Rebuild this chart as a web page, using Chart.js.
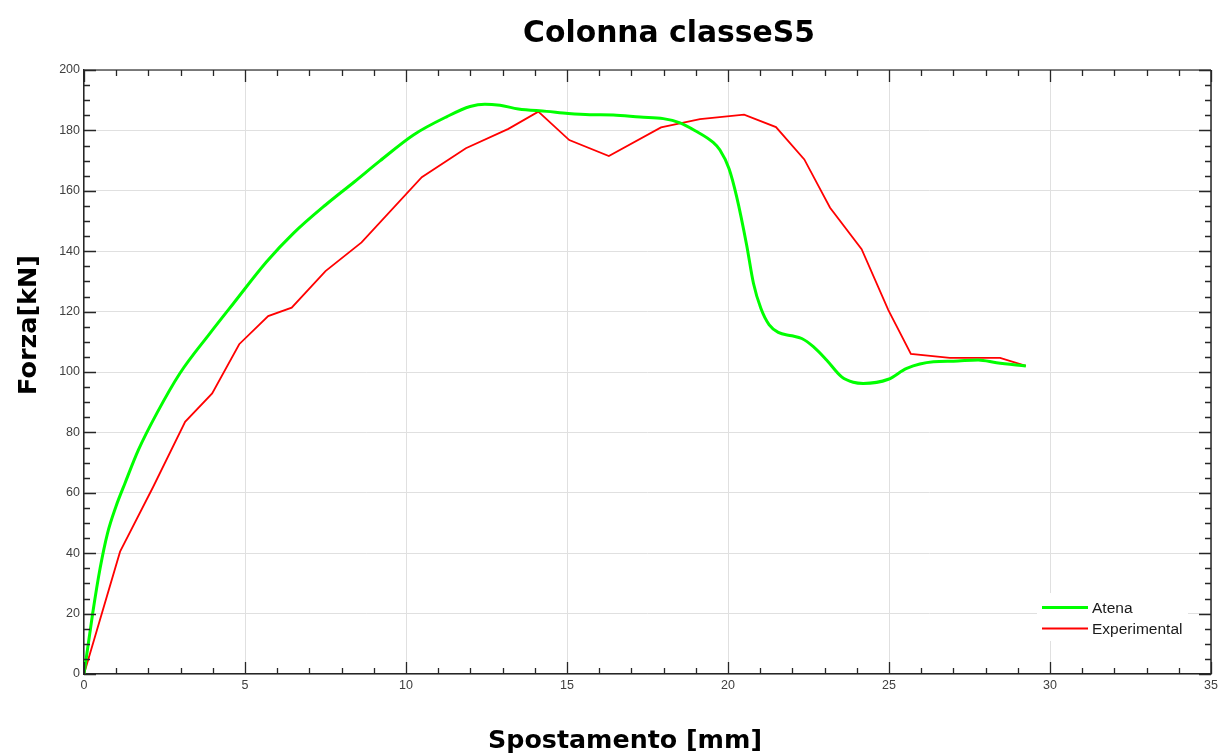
<!DOCTYPE html>
<html>
<head>
<meta charset="utf-8">
<script src="https://cdn.jsdelivr.net/npm/chart.js@4.4.1/dist/chart.umd.min.js"></script>
<style>
html,body{margin:0;padding:0;background:#fff;}
#wrap{position:relative;width:1220px;height:753px;}
</style>
</head>
<body>
<div id="wrap"><canvas id="c" width="1220" height="753"></canvas></div>
<script>
// ---- data ----
const atenaX = [0, 0.27, 0.5, 0.73, 0.99, 1.27, 1.69, 2.26, 2.98, 3.91, 4.64, 5.67, 6.5, 7.5, 8.4, 9.19, 10.23, 11.26, 11.99, 12.45, 12.92, 13.49, 14.37, 15.04, 15.71, 16.44, 17.27, 17.99, 18.51, 18.98, 19.54, 19.75, 20.03, 20.27, 20.58, 20.79, 21.02, 21.28, 21.56, 21.98, 22.29, 22.65, 23.06, 23.53, 23.89, 24.2, 24.98, 25.55, 26.38, 27.0, 27.77, 28.34, 29.25];
const atenaY = [0, 20.1, 35, 46.6, 55.4, 63.1, 74.2, 86.3, 99.6, 112.8, 122.7, 136.5, 145.9, 155.3, 163, 169.9, 178.5, 184.5, 187.9, 188.7, 188.3, 187.1, 186.3, 185.6, 185.2, 185.1, 184.4, 183.9, 182.5, 179.9, 176, 173.5, 167.4, 158, 142, 129.4, 121.1, 115.6, 113.1, 112, 111.1, 108.4, 104, 98.4, 96.6, 96.2, 97.6, 101.2, 103.4, 103.6, 104, 103.1, 102];
const expX = [0, 1.12, 2.15, 3.14, 3.98, 4.82, 5.72, 6.45, 7.5, 8.62, 10.49, 11.86, 13.18, 14.11, 15.07, 16.30, 17.92, 19.13, 20.50, 21.49, 22.37, 23.17, 24.15, 24.98, 25.68, 26.89, 28.45, 29.25];
const expY = [0, 40.5, 62, 83.5, 92.9, 109.2, 118.5, 121.3, 133.4, 142.9, 164.5, 174.1, 180.5, 186.2, 176.8, 171.5, 181, 183.7, 185.2, 181.1, 170.4, 154.4, 140.7, 120.5, 106, 104.7, 104.7, 102];
const seriesNames = ["Atena", "Experimental"];
const titleText = "Colonna classeS5";
const xTitle = "Spostamento [mm]";
const yTitle = "Forza[kN]";
const xMin = 0, xMax = 35, xStep = 5, xMinor = 1;
const yMin = 0, yMax = 200, yStep = 20, yMinor = 5;

const toPts = (xs, ys) => xs.map((x, i) => ({x: x, y: ys[i]}));

function fitFont(ctx, text, weight, family, targetW) {
  ctx.font = weight + " 100px " + family;
  const w = ctx.measureText(text).width;
  return 100 * targetW / w;
}

const decor = {
  id: 'decor',
  afterDatasetsDraw(chart) {
    const ctx = chart.ctx;
    const a = chart.chartArea;
    const xs = chart.scales.x, ys = chart.scales.y;
    ctx.save();
    ctx.lineWidth = 1.5;
    ctx.strokeStyle = '#555';
    ctx.beginPath(); ctx.moveTo(a.left, a.top); ctx.lineTo(a.right, a.top); ctx.stroke();
    ctx.strokeStyle = '#262626';
    ctx.beginPath(); ctx.moveTo(a.right, a.top); ctx.lineTo(a.right, a.bottom); ctx.stroke();
    ctx.strokeStyle = '#262626';
    ctx.lineWidth = 1.3;
    ctx.beginPath();
    for (let v = xMin; v <= xMax + 1e-9; v += xMinor) {
      const px = Math.round(xs.getPixelForValue(v)) + 0.5;
      const len = (Math.abs(v / xStep - Math.round(v / xStep)) < 1e-9) ? 12 : 6;
      ctx.moveTo(px, a.bottom); ctx.lineTo(px, a.bottom - len);
      ctx.moveTo(px, a.top); ctx.lineTo(px, a.top + len);
    }
    for (let v = yMin; v <= yMax + 1e-9; v += yMinor) {
      const py = Math.round(ys.getPixelForValue(v)) + 0.5;
      const len = (Math.abs(v / yStep - Math.round(v / yStep)) < 1e-9) ? 12 : 6;
      ctx.moveTo(a.left, py); ctx.lineTo(a.left + len, py);
      ctx.moveTo(a.right, py); ctx.lineTo(a.right - len, py);
    }
    ctx.stroke();
    ctx.restore();
  },
  afterDraw(chart) {
    const ctx = chart.ctx;
    ctx.save();
    const lx = 1037, ly = 593;
    ctx.fillStyle = '#fff';
    ctx.fillRect(lx, ly, 151, 48);
    const ds = chart.data.datasets;
    const rows = [607.5, 628.5];
    ctx.font = '15.5px "Liberation Sans", Arial, sans-serif';
    ctx.textBaseline = 'middle';
    ctx.textAlign = 'left';
    rows.forEach((ry, i) => {
      ctx.strokeStyle = ds[i].borderColor;
      ctx.lineWidth = ds[i].borderWidth;
      ctx.beginPath(); ctx.moveTo(1042, ry); ctx.lineTo(1088, ry); ctx.stroke();
      ctx.fillStyle = '#1a1a1a';
      ctx.fillText(ds[i].label, 1092, ry + 1);
    });
    const fam = '"DejaVu Sans", sans-serif';
    ctx.fillStyle = '#000';
    ctx.textAlign = 'center';
    ctx.textBaseline = 'alphabetic';
    let fs = fitFont(ctx, titleText, 'bold', fam, 292);
    ctx.font = 'bold ' + fs + 'px ' + fam;
    ctx.fillText(titleText, 669, 42);
    fs = fitFont(ctx, xTitle, 'bold', fam, 274);
    ctx.font = 'bold ' + fs + 'px ' + fam;
    ctx.fillText(xTitle, 625, 748);
    fs = fitFont(ctx, yTitle, 'bold', fam, 140);
    ctx.font = 'bold ' + fs + 'px ' + fam;
    ctx.translate(36, 325);
    ctx.rotate(-Math.PI / 2);
    ctx.fillText(yTitle, 0, 0);
    ctx.restore();
  }
};

new Chart(document.getElementById('c'), {
  type: 'line',
  data: {
    datasets: [
      {
        label: seriesNames[0],
        data: toPts(atenaX, atenaY),
        borderColor: '#00ff00',
        backgroundColor: '#00ff00',
        borderWidth: 3,
        pointRadius: 0,
        cubicInterpolationMode: 'monotone',
        fill: false
      },
      {
        label: seriesNames[1],
        data: toPts(expX, expY),
        borderColor: '#ff0000',
        backgroundColor: '#ff0000',
        borderWidth: 1.8,
        pointRadius: 0,
        tension: 0,
        fill: false
      }
    ]
  },
  options: {
    responsive: false,
    animation: false,
    events: [],
    layout: { padding: { left: 0, right: 9, top: 70, bottom: 0 } },
    plugins: {
      legend: { display: false },
      title: { display: false },
      tooltip: { enabled: false }
    },
    scales: {
      x: {
        type: 'linear',
        min: xMin, max: xMax,
        ticks: {
          stepSize: xStep,
          color: '#404040',
          padding: 4,
          maxRotation: 0,
          font: { family: '"Liberation Sans", Arial, sans-serif', size: 12.5 }
        },
        grid: { color: '#e0e0e0', lineWidth: 1, drawTicks: false },
        border: { color: '#262626', width: 1.5 },
        afterFit(s) { s.height = 79; s.paddingRight = 0; s.paddingLeft = 0; }
      },
      y: {
        type: 'linear',
        min: yMin, max: yMax,
        ticks: {
          stepSize: yStep,
          color: '#404040',
          padding: 4,
          font: { family: '"Liberation Sans", Arial, sans-serif', size: 12.5 }
        },
        grid: { color: '#e0e0e0', lineWidth: 1, drawTicks: false },
        border: { color: '#262626', width: 1.5 },
        afterFit(s) { s.width = 84; s.paddingTop = 0; s.paddingBottom = 0; }
      }
    }
  },
  plugins: [decor]
});
</script>
</body>
</html>
